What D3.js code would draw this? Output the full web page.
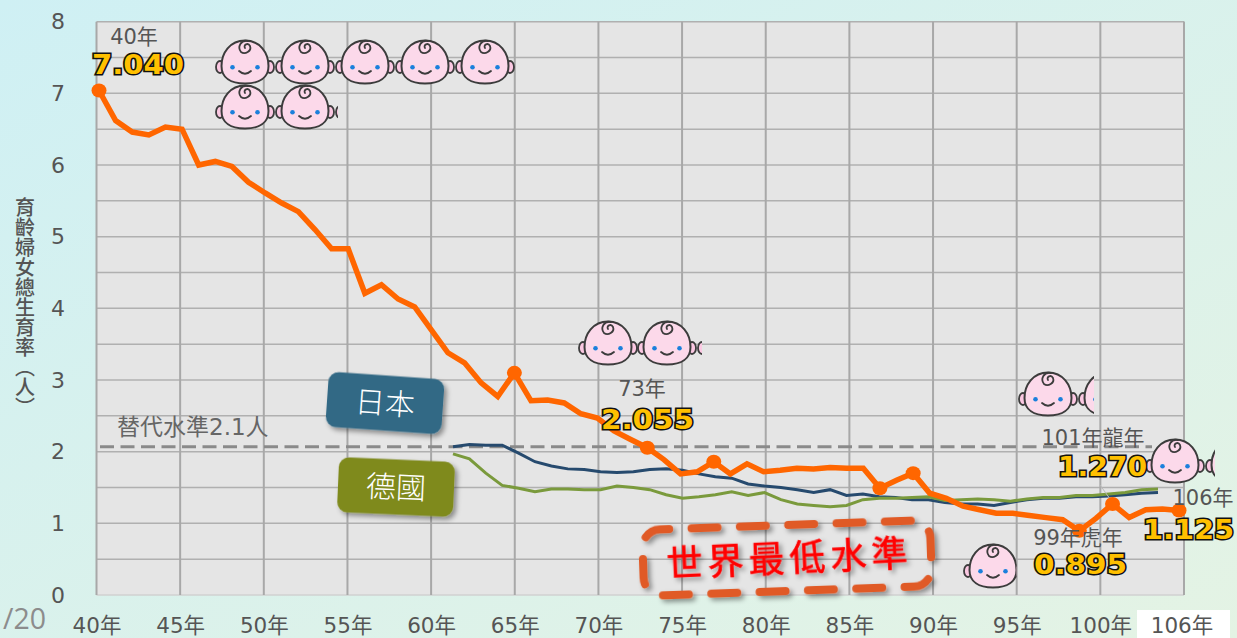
<!DOCTYPE html>
<html><head><meta charset="utf-8">
<script src="https://cdn.jsdelivr.net/npm/d3@7"></script>
<style>html,body{margin:0;padding:0;overflow:hidden}svg{display:block}text{font-family:"DejaVu Sans","Noto Sans CJK TC",sans-serif}</style>
</head><body><svg id="c" width="1237" height="638"></svg>
<script>
const japanTaiwanYears = d3.range(40,106);
const taiwan = [7.04,6.62,6.46,6.42,6.53,6.50,6.00,6.05,5.98,5.76,5.61,5.47,5.35,5.10,4.83,4.83,4.21,4.33,4.13,4.02,3.70,3.38,3.24,2.96,2.77,3.10,2.71,2.72,2.68,2.53,2.47,2.29,2.17,2.055,1.89,1.69,1.72,1.86,1.69,1.83,1.72,1.74,1.77,1.76,1.78,1.77,1.77,1.49,1.60,1.70,1.42,1.35,1.24,1.19,1.14,1.14,1.11,1.08,1.05,0.895,1.07,1.27,1.08,1.19,1.20,1.18];
const compareYears = d3.range(61,105);
const japan = [2.07,2.10,2.09,2.09,1.98,1.86,1.80,1.76,1.75,1.72,1.71,1.72,1.75,1.76,1.74,1.69,1.65,1.63,1.55,1.52,1.50,1.47,1.43,1.47,1.39,1.41,1.37,1.36,1.33,1.33,1.29,1.27,1.27,1.25,1.29,1.33,1.35,1.35,1.37,1.37,1.38,1.40,1.42,1.43];
const germany = [1.97,1.90,1.70,1.53,1.49,1.44,1.48,1.48,1.47,1.47,1.52,1.50,1.47,1.40,1.35,1.37,1.40,1.44,1.39,1.43,1.33,1.27,1.25,1.23,1.25,1.33,1.35,1.35,1.36,1.37,1.32,1.33,1.34,1.33,1.31,1.34,1.36,1.36,1.39,1.39,1.41,1.43,1.47,1.48];
const markerYears = [40,65,73,77,87,89,99,101,105];
const xTicks = d3.range(40,106,5);
const yTicks = d3.range(0,9);
const yGrid = d3.range(0,8.5,0.5);
const replacement = 2.07;
const valueLabels = [
 {year:"40年",yx:134,yy:36,val:"7.040",x0:91,x1:185,vy:64},
 {year:"73年",yx:642,yy:388,val:"2.055",x0:600,x1:695,vy:419},
 {year:"101年龍年",yx:1093,yy:437,val:"1.270",x0:1057,x1:1148,vy:466},
 {year:"106年",yx:1203,yy:497,val:"1.125",x0:1142,x1:1235,vy:529},
 {year:"99年虎年",yx:1078,yy:537,val:"0.895",x0:1033,x1:1128,vy:564}];
const babyRows = [
 {heads:[245,305,365,425,485],y:62,clip:[210,515]},
 {heads:[245,305,365],y:107,clip:[210,338]},
 {heads:[608,667,727],y:343,clip:[575,702]},
 {heads:[993],y:566,clip:[960,1016.5]},
 {heads:[1048,1108],y:394,clip:[1015,1094]},
 {heads:[1175,1235],y:461,clip:[1145,1215]}];

const svg = d3.select("#c");
const defs = svg.append("defs");
const g = defs.append("linearGradient").attr("id","bg").attr("x1","0").attr("y1","0").attr("x2","1").attr("y2","1");
g.append("stop").attr("offset","0").attr("stop-color","#cff0f4");
g.append("stop").attr("offset","1").attr("stop-color","#e4f3e4");
const f = defs.append("filter").attr("id","sh").attr("x","-20%").attr("y","-30%").attr("width","140%").attr("height","160%");
f.append("feDropShadow").attr("dx",3).attr("dy",3).attr("stdDeviation",2.5).attr("flood-color","#000").attr("flood-opacity",.4);
svg.append("rect").attr("width",1237).attr("height",638).attr("fill","url(#bg)");

const L=96.5,R=1184,T=21.7,B=595;
const y = d3.scaleLinear().domain([0,8]).range([B,T]);
const xGrid = d3.scaleLinear().domain([40,105]).range([L,R]);
const x = d3.scaleLinear().domain([40,105]).range([99,1179]);
const x2 = d3.scaleLinear().domain([61,104]).range([453,1158]);

svg.append("rect").attr("x",L).attr("y",T).attr("width",R-L).attr("height",B-T).attr("fill","#e5e5e5");
svg.append("g").selectAll("line").data(yGrid).join("line")
 .attr("x1",L).attr("x2",R).attr("y1",d=>y(d)).attr("y2",d=>y(d)).attr("stroke",d=>d===0?"#d0d0d0":"#b0b0b0").attr("stroke-width",1.5);
svg.append("g").selectAll("line").data(xTicks.concat([105])).join("line")
 .attr("x1",d=>xGrid(d)).attr("x2",d=>xGrid(d)).attr("y1",T).attr("y2",B).attr("stroke","#a8a8a8").attr("stroke-width",2);

const yAxis = svg.append("g").attr("transform",`translate(${L},0)`).call(d3.axisLeft(y).tickValues(yTicks).tickSize(0).tickPadding(0).tickFormat(d3.format("d")));
yAxis.select(".domain").remove();
yAxis.selectAll("text").attr("x",-38.5).attr("text-anchor","middle").attr("font-size",22).attr("fill","#555").style("font-family",'"DejaVu Sans"');
const labelFor = d => d+"年";
const xAxis = svg.append("g").attr("transform",`translate(0,${B})`).call(d3.axisBottom(xGrid).tickValues(xTicks.filter(d=>d<105)).tickSize(0).tickFormat(labelFor));
xAxis.select(".domain").remove();
xAxis.selectAll("text").attr("y",37.5).attr("dy",0).attr("font-size",21.5).attr("fill","#555");

svg.append("rect").attr("x",1137).attr("y",610).attr("width",93).attr("height",28).attr("fill","#fff");
svg.append("text").attr("x",1182).attr("y",632.5).attr("text-anchor","middle").attr("font-size",21.5).attr("fill","#555").text("106年");

svg.append("text").attr("x",3).attr("y",629).attr("font-size",28.5).attr("fill","#8c8c8c").style("font-family",'"Open Sans"').text("/20");

svg.append("text").attr("x",25).attr("y",197).attr("font-size",20).attr("font-weight",500).attr("fill","#555")
 .style("font-family",'"Noto Sans CJK TC"').style("writing-mode","vertical-rl").text("育齡婦女總生育率（人）");

svg.append("line").attr("x1",100).attr("x2",1152).attr("y1",y(replacement)).attr("y2",y(replacement))
 .attr("stroke","#8a8a8a").attr("stroke-width",3).attr("stroke-dasharray","14,6.5");
svg.append("text").attr("x",117).attr("y",435).attr("font-size",23).attr("fill","#666").text("替代水準2.1人");

babyRows.forEach((r,i)=>{
 defs.append("clipPath").attr("id","cb"+i).append("rect").attr("x",r.clip[0]).attr("y",r.y-30).attr("width",r.clip[1]-r.clip[0]).attr("height",60);
 const row = svg.append("g").attr("clip-path",`url(#cb${i})`);
 r.heads.forEach(cx=>{
  const h = row.append("g").attr("transform",`translate(${cx},${r.y})`);
  [-25,25].forEach(ex=>h.append("ellipse").attr("cx",ex).attr("cy",5).attr("rx",4).attr("ry",6).attr("fill","#fbc8e2").attr("stroke","#3c3c3c").attr("stroke-width",1.8));
  h.append("path").attr("d","M0,-21.5C15,-21.5 23.5,-9 23.5,4C23.5,16 14,21.5 0,21.5C-14,21.5 -23.5,16 -23.5,4C-23.5,-9 -15,-21.5 0,-21.5Z")
   .attr("fill","#fcd9ea").attr("stroke","#3c3c3c").attr("stroke-width",2);
  h.append("path").attr("d","M3,-21C-4,-22.5 -8,-15 -4,-10C0,-7 7,-11 5,-16C3,-20 -2,-17 0,-14M-6,9Q0,14.5 6,9").attr("fill","none").attr("stroke","#3c3c3c").attr("stroke-width",1.8).attr("stroke-linecap","round");
  [-12.5,12.5].forEach(ex=>h.append("circle").attr("cx",ex).attr("cy",5.3).attr("r",2.3).attr("fill","#1a80dc"));
 });
});

const lineG = d3.line().x((d,i)=>x2(compareYears[i])).y(d=>y(d));
svg.append("path").attr("d",lineG(japan)).attr("fill","none").attr("stroke","#264a6e").attr("stroke-width",3);
svg.append("path").attr("d",lineG(germany)).attr("fill","none").attr("stroke","#7a9a3c").attr("stroke-width",3);

svg.append("line").attr("x1",1100).attr("y1",485).attr("x2",1113).attr("y2",503).attr("stroke","#bbb").attr("stroke-width",1);

const lineM = d3.line().x((d,i)=>x(japanTaiwanYears[i])).y(d=>y(d));
svg.append("path").attr("d",lineM(taiwan)).attr("fill","none").attr("stroke","#ff6600").attr("stroke-width",5.5).attr("stroke-linejoin","miter");
svg.append("g").selectAll("ellipse").data(markerYears).join("ellipse")
 .attr("cx",d=>x(d)).attr("cy",d=>y(taiwan[japanTaiwanYears.indexOf(d)])).attr("rx",7.5).attr("ry",7).attr("fill","#ff6600");

valueLabels.forEach(d=>{
 svg.append("text").attr("x",d.yx).attr("y",d.yy+7.5).attr("text-anchor","middle").attr("font-size",21).attr("fill","#555").text(d.year);
 svg.append("text").attr("x",d.x0+1).attr("y",d.vy+9.5).attr("font-size",26).attr("font-weight",700)
  .attr("textLength",d.x1-d.x0-2).attr("lengthAdjust","spacingAndGlyphs")
  .attr("fill","#ffc000").attr("stroke","#111").attr("stroke-width",3).style("paint-order","stroke").text(d.val);
});

[{t:"日本",cx:385,cy:403,r:4,c:"#336985"},{t:"德國",cx:396,cy:487,r:2.5,c:"#7f8a1e"}].forEach(d=>{
 const gg = svg.append("g").attr("transform",`translate(${d.cx},${d.cy}) rotate(${d.r})`);
 gg.append("rect").attr("x",-58).attr("y",-27.5).attr("width",116).attr("height",55).attr("rx",10).attr("fill",d.c).attr("filter","url(#sh)");
 gg.append("text").attr("text-anchor","middle").attr("y",11).attr("font-size",30).attr("font-weight",300).attr("fill","#fff").style("font-family",'"Noto Sans CJK TC"').text(d.t);
});

const cg = svg.append("g").attr("transform","translate(787,558) rotate(-2)");
cg.append("path").attr("d","M-144,13V-15A18,18 0 0 1 -126,-33H126A18,18 0 0 1 144,-15V15A18,18 0 0 1 126,33H-126A18,18 0 0 1 -144,15Z").attr("fill","none")
 .attr("stroke","#e05a28").attr("stroke-width",8).attr("stroke-linecap","round").attr("stroke-dasharray","26,22.35").attr("stroke-dashoffset",9).attr("filter","url(#sh)");
svg.append("text").attr("transform","translate(789.5,558.5) rotate(-2.6)").attr("text-anchor","middle").attr("y",13).attr("font-size",36).attr("letter-spacing",5)
 .attr("fill","#ff0000").attr("stroke","#ff0000").attr("stroke-width",0.7).attr("filter","url(#sh)").style("font-family",'"Noto Sans CJK TC"').text("世界最低水準");
</script></body></html>
